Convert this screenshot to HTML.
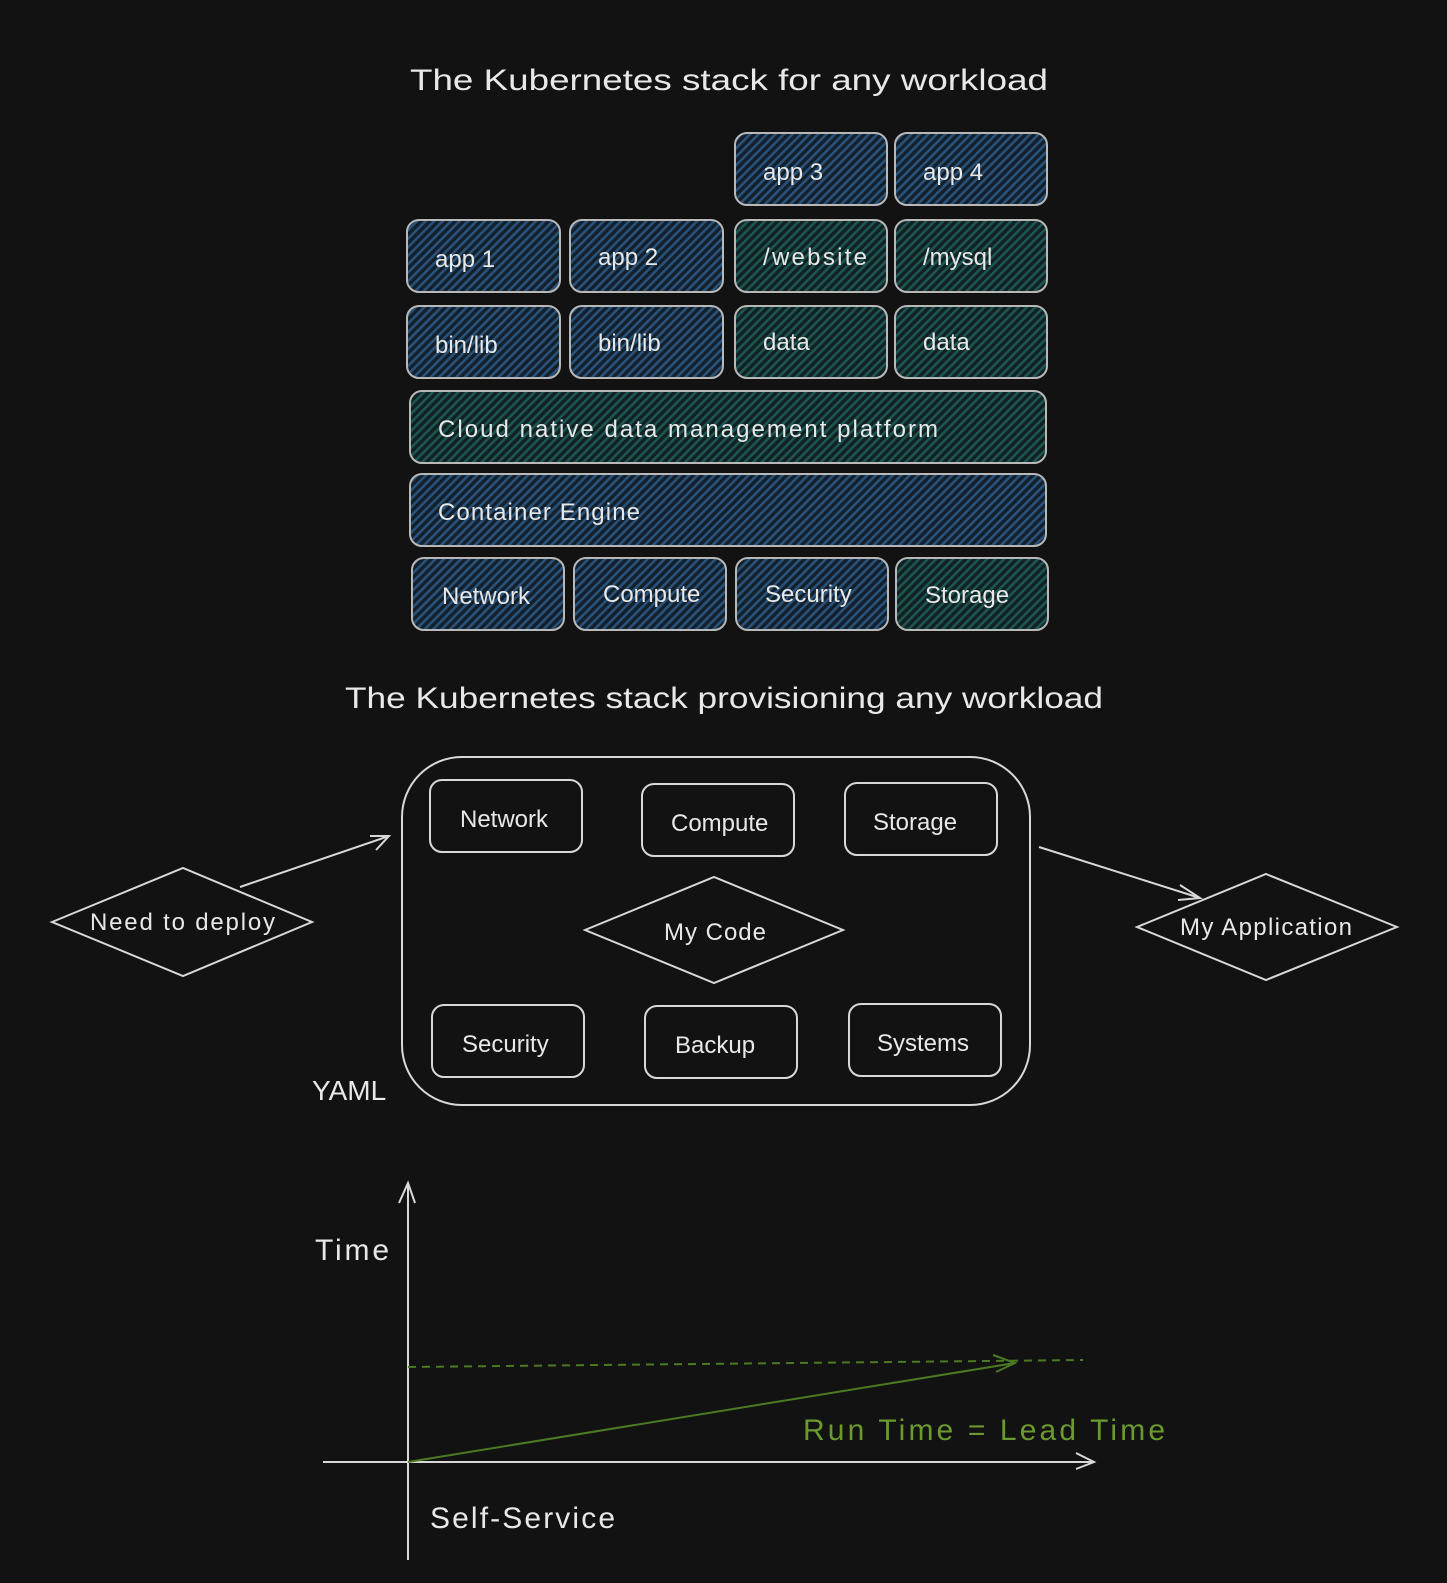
<!DOCTYPE html>
<html><head><style>
html,body{margin:0;padding:0;background:#121212;}
svg{display:block}
text{font-family:"Liberation Sans",sans-serif;fill:#e8e8e8;}
</style></head><body>
<svg width="1447" height="1583" viewBox="0 0 1447 1583" xmlns="http://www.w3.org/2000/svg">
<defs>
<pattern id="hb" width="6" height="6" patternUnits="userSpaceOnUse" patternTransform="rotate(45)">
<rect width="6" height="6" fill="#13202b"/><rect width="2.6" height="6" fill="#28527a"/></pattern>
<pattern id="ht" width="6" height="6" patternUnits="userSpaceOnUse" patternTransform="rotate(45)">
<rect width="6" height="6" fill="#112121"/><rect width="2.6" height="6" fill="#1d5553"/></pattern>
</defs>
<rect width="1447" height="1583" fill="#121212"/>
<text x="410" y="90" font-size="30" textLength="638" lengthAdjust="spacingAndGlyphs">The Kubernetes stack for any workload</text>
<g stroke="#b8b8b8" stroke-width="2" font-size="24">
<rect x="735" y="133" width="152" height="72" rx="12" fill="url(#hb)"/>
<rect x="895" y="133" width="152" height="72" rx="12" fill="url(#hb)"/>
<rect x="407" y="220" width="153" height="72" rx="12" fill="url(#hb)"/>
<rect x="570" y="220" width="153" height="72" rx="12" fill="url(#hb)"/>
<rect x="735" y="220" width="152" height="72" rx="12" fill="url(#ht)"/>
<rect x="895" y="220" width="152" height="72" rx="12" fill="url(#ht)"/>
<rect x="407" y="306" width="153" height="72" rx="12" fill="url(#hb)"/>
<rect x="570" y="306" width="153" height="72" rx="12" fill="url(#hb)"/>
<rect x="735" y="306" width="152" height="72" rx="12" fill="url(#ht)"/>
<rect x="895" y="306" width="152" height="72" rx="12" fill="url(#ht)"/>
<rect x="410" y="391" width="636" height="72" rx="12" fill="url(#ht)"/>
<rect x="410" y="474" width="636" height="72" rx="12" fill="url(#hb)"/>
<rect x="412" y="558" width="152" height="72" rx="12" fill="url(#hb)"/>
<rect x="574" y="558" width="152" height="72" rx="12" fill="url(#hb)"/>
<rect x="736" y="558" width="152" height="72" rx="12" fill="url(#hb)"/>
<rect x="896" y="558" width="152" height="72" rx="12" fill="url(#ht)"/>
</g>
<g font-size="24">
<text x="763" y="180">app 3</text><text x="923" y="180">app 4</text>
<text x="435" y="267">app 1</text><text x="598" y="265">app 2</text>
<text x="763" y="265" textLength="104">/website</text><text x="923" y="265">/mysql</text>
<text x="435" y="353">bin/lib</text><text x="598" y="351">bin/lib</text>
<text x="763" y="350">data</text><text x="923" y="350">data</text>
<text x="438" y="437" textLength="500">Cloud native data management platform</text>
<text x="438" y="520" textLength="202">Container Engine</text>
<text x="442" y="604">Network</text><text x="603" y="602">Compute</text>
<text x="765" y="602">Security</text><text x="925" y="603">Storage</text>
</g>
<text x="345" y="708" font-size="30" textLength="758" lengthAdjust="spacingAndGlyphs">The Kubernetes stack provisioning any workload</text>
<g stroke="#d8d8d8" stroke-width="2" fill="none">
<rect x="402" y="757" width="628" height="348" rx="60"/>
<rect x="430" y="780" width="152" height="72" rx="12"/>
<rect x="642" y="784" width="152" height="72" rx="12"/>
<rect x="845" y="783" width="152" height="72" rx="12"/>
<rect x="432" y="1005" width="152" height="72" rx="12"/>
<rect x="645" y="1006" width="152" height="72" rx="12"/>
<rect x="849" y="1004" width="152" height="72" rx="12"/>
<polygon points="585,930 714,877 843,930 714,983"/>
<polygon points="52,922 183,868 312,922 183,976"/>
<polygon points="1137,927 1266,874 1397,927 1266,980"/>
<path d="M240 887 L389 836 M370 836 L389 836 L376 850"/>
<path d="M1039 847 L1200 898 M1180 885 L1200 898 L1178 900"/>
<path d="M408 1560 L408 1183 M399 1203 L408 1183 L415 1203"/>
<path d="M323 1462 L1094 1462 M1076 1453 L1094 1462 L1076 1469"/>
</g>
<g font-size="24">
<text x="460" y="827">Network</text><text x="671" y="831">Compute</text><text x="873" y="830">Storage</text>
<text x="462" y="1052">Security</text><text x="675" y="1053">Backup</text><text x="877" y="1051">Systems</text>
<text x="664" y="940" textLength="102">My Code</text>
<text x="90" y="930" textLength="185">Need to deploy</text>
<text x="1180" y="935" textLength="172">My Application</text>
<text x="312" y="1100" font-size="28">YAML</text>
<text x="315" y="1260" font-size="30" textLength="74">Time</text>
<text x="430" y="1528" font-size="30" textLength="185">Self-Service</text>
</g>
<g stroke="#4a7a22" stroke-width="2" fill="none">
<path d="M408 1367 L1083 1360" stroke-dasharray="8 6"/>
<path d="M408 1462 L1015 1363 M993 1355 L1015 1363 L996 1372"/>
</g>
<text x="803" y="1440" font-size="30" textLength="362" style="fill:#6a9a2e">Run Time = Lead Time</text>
</svg>
</body></html>
